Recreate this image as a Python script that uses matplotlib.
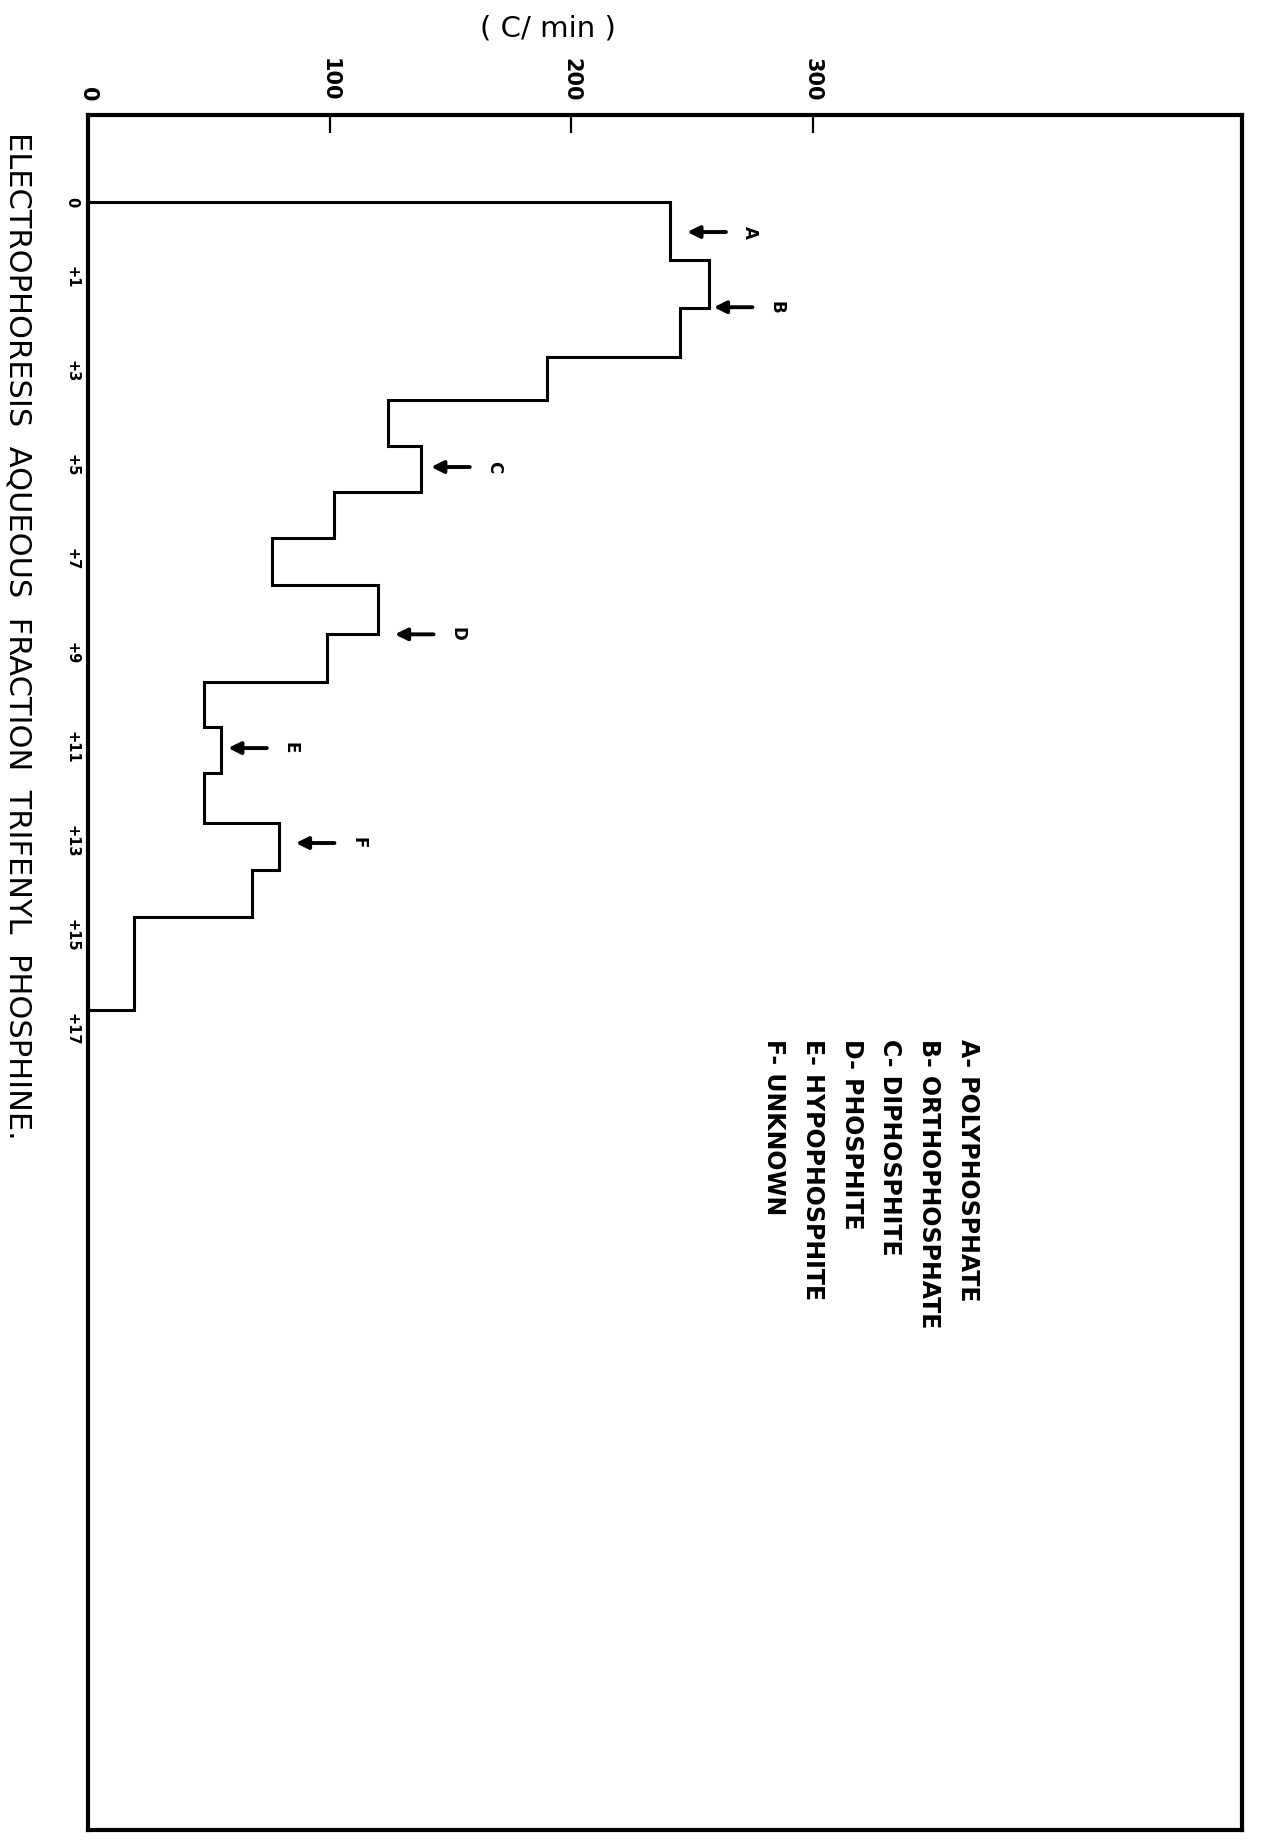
"""Electrophoresis step profile, drawn rotated like the scanned original."""
import matplotlib
matplotlib.use("Agg")
import matplotlib.pyplot as plt

# fraction bin edges (vertical axis, top to bottom) and count rate per bin
frac_edges = [-0.6, 0.63, 1.65, 2.69, 3.62, 4.6, 5.57, 6.55, 7.55, 8.6,
              9.61, 10.57, 11.56, 12.61, 13.62, 14.62, 16.6]
counts = [241, 257, 245, 190, 124, 138, 102, 76, 120, 99,
          48, 55, 48, 79, 68, 19]

frac_ticks = [-0.6, 1, 3, 5, 7, 9, 11, 13, 15, 17]
frac_labels = ["0", "+1", "+3", "+5", "+7", "+9", "+11", "+13", "+15", "+17"]
count_ticks = [0, 100, 200, 300]

# peak markers: letter, fraction position, count where the arrow head sits
peak_letters = ["A", "B", "C", "D", "E", "F"]
peak_frac = [0.04, 1.64, 5.04, 8.6, 11.02, 13.04]
peak_head = [248, 259, 142, 127, 58, 86]

legend_items = ["A- POLYPHOSPHATE", "B- ORTHOPHOSPHATE", "C- DIPHOSPHITE",
                "D- PHOSPHITE", "E- HYPOPHOSPHITE", "F- UNKNOWN"]

W, H = 1265, 1845
fig = plt.figure(figsize=(W / 100, H / 100), dpi=100)
ax = fig.add_axes([88 / W, 1 - 1830 / H, (1242 - 88) / W, (1830 - 115) / H])

ax.stairs(counts, frac_edges, orientation="horizontal", baseline=0,
          color="black", lw=2.2)

ax.set_xlim(0, 477.6)
ax.set_ylim(34.04, -2.45)

for s in ax.spines.values():
    s.set_linewidth(3)

ax.xaxis.tick_top()
ax.set_xticks(count_ticks)
ax.set_xticklabels([str(v) for v in count_ticks], rotation=270,
                   fontsize=15, fontweight="bold")
ax.tick_params(axis="x", direction="in", length=13, width=1.6, pad=10)
ax.set_yticks(frac_ticks)
ax.set_yticklabels(frac_labels, rotation=270, fontsize=10.5, fontweight="bold",
                   va="center")
ax.tick_params(axis="y", length=0, pad=6)

for letter, f, head in zip(peak_letters, peak_frac, peak_head):
    ax.annotate("", xy=(head, f), xytext=(head + 16, f),
                arrowprops=dict(arrowstyle="-|>", color="black", lw=2.8,
                                mutation_scale=18, shrinkA=0, shrinkB=0))
    ax.text(head + 26, f, letter, rotation=270, fontsize=12,
            fontweight="bold", ha="center", va="center")

for i, item in enumerate(legend_items):
    ax.text(364 - i * 16, 17.2, item, rotation=270, fontsize=17,
            fontweight="bold", ha="center", va="top")

fig.text(548 / W, 1 - 28 / H, "( C/ min )", fontsize=21,
         ha="center", va="center")
fig.text(18 / W, 1 - 132 / H,
         "ELECTROPHORESIS  AQUEOUS  FRACTION  TRIFENYL  PHOSPHINE.",
         rotation=270, fontsize=22, ha="center", va="top")

fig.savefig("out.png", dpi=100, facecolor="white")
plt.close(fig)
